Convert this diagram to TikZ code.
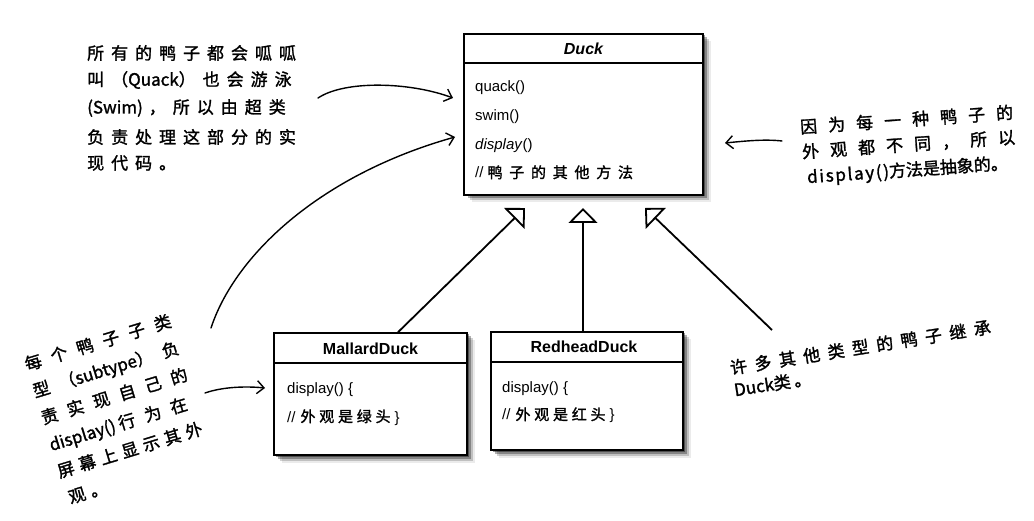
\documentclass[tikz,border=0pt]{standalone}
\usepackage{fontspec}
\setmainfont{Liberation Sans}
\newfontfamily\cjk[FakeBold=1.5]{Noto Sans CJK SC}
\newfontfamily\hand[FakeBold=1.5]{Noto Sans CJK SC}
\usetikzlibrary{arrows.meta,shadows}
\newcommand\lsp[1]{\addfontfeatures{LetterSpace=#1}}
\tikzset{
  shade3/.style={
    drop shadow={shadow xshift=1.5pt,shadow yshift=-1.5pt,fill=black,opacity=.4},
    drop shadow={shadow xshift=3.5pt,shadow yshift=-3.5pt,fill=black,opacity=.3},
    drop shadow={shadow xshift=5.5pt,shadow yshift=-5.5pt,fill=black,opacity=.18},
    drop shadow={shadow xshift=7.5pt,shadow yshift=-7.5pt,fill=black,opacity=.08}},
  umlbox/.style={draw,line width=1.6pt,fill=white,inner sep=0pt,shade3},
  sepline/.style={line width=1.2pt},
  title/.style={anchor=base,inner sep=0pt,font=\fontsize{16}{19}\selectfont\bfseries},
  member/.style={anchor=base west,inner sep=0pt,font=\fontsize{15}{18}\selectfont},
  gen/.style={line width=1.8pt,-{Triangle[open,length=15pt,width=29pt,line width=1.8pt]}},
  handtxt/.style={anchor=west,inner sep=0pt,font=\hand\fontsize{17}{20}\selectfont},
  handblock/.style={anchor=north west,inner sep=0pt,align=left,font=\hand\fontsize{17}{28}\selectfont},
  handarrow/.style={line width=1.4pt,line cap=round,-{Straight Barb[length=7pt,width=13pt,line width=1.4pt]}},
}
\begin{document}
\begin{tikzpicture}[x=1pt,y=-1pt]
\useasboundingbox[fill=white] (0,0) rectangle (1034,521);

% ---------- Duck ----------
\node[umlbox,minimum width=239pt,minimum height=161pt] (duck) at (583.5,114.5) {};
\draw[sepline] (duck.west |- 0,63) -- (duck.east |- 0,63);
\node[title] (duckT) at (583.5,55) {\itshape Duck};
\node[member] (m1) at (475,92) {quack()};
\node[member] (m2) at (475,121) {swim()};
\node[member] (m3) at (475,150) {\textit{display}()};
\node[member] (m4) at (475,178) {//\hspace{4pt}{\cjk\lsp{45}鸭子的其他方法}};

% ---------- MallardDuck ----------
\node[umlbox,minimum width=193pt,minimum height=122pt] (mallard) at (370.5,394) {};
\draw[sepline] (mallard.west |- 0,363) -- (mallard.east |- 0,363);
\node[title] (malT) at (370.5,355) {MallardDuck};
\node[member] (mal1) at (287,393) {display() \{};
\node[member] (mal2) at (287,422) {//\hspace{5pt}{\cjk\lsp{25}外观是绿头} \}};

% ---------- RedheadDuck ----------
\node[umlbox,minimum width=192pt,minimum height=118pt] (redhead) at (587,391) {};
\draw[sepline] (redhead.west |- 0,362) -- (redhead.east |- 0,362);
\node[title] (redT) at (584,353) {RedheadDuck};
\node[member] (red1) at (502,392) {display() \{};
\node[member] (red2) at (502,420) {//\hspace{5pt}{\cjk\lsp{25}外观是红头} \}};

% ---------- generalisation arrows ----------
\coordinate (t1) at (525,208);
\coordinate (t2) at (583,208);
\coordinate (t3) at (645,208);
\coordinate (c4) at (772,330);
\draw[gen] ([xshift=27.5pt]mallard.north) -- (t1);
\draw[gen] (t2 |- redhead.north) -- (t2);
\draw[gen] (c4) -- (t3);

% ---------- annotation 1 ----------
\node[handtxt] (a1l1) at (87,53) {\lsp{41}所有的鸭子都会呱呱};
\node[handtxt] (a1l2) at (87,80) {{\lsp{41}叫（}Quack{\lsp{41}）也会游泳}};
\node[handtxt] (a1l3) at (87,108) {(Swim)\hspace{6pt}{\lsp{41}，所以由超类}};
\node[handtxt] (a1l4) at (87,137) {\lsp{41}负责处理这部分的实};
\node[handtxt] (a1l5) at (87,163) {\lsp{41}现代码。};

% ---------- annotation 2 ----------
\node[handtxt,rotate=4] (a2l1) at (800,127) {\lsp{65}因为每一种鸭子的};
\node[handtxt,rotate=4] (a2l2) at (802,152) {\lsp{65}外观都不同，所以};
\node[handtxt,rotate=4] (a2l3) at (807,178) {{\lsp{10}display()}方法是抽象的。};

% ---------- annotation 3 ----------
\node[handblock,rotate=17] (a3) at (22.5,357) {%
  {\lsp{59}每个鸭子子类}\\
  {\lsp{59}型（}subtype{\lsp{59}）负}\\
  {\lsp{59}责实现自己的}\\
  display() {\lsp{59}行为在}\\
  {\lsp{31}屏幕上显示其外}\\
  \hspace{3pt}{\lsp{31}观。}};

% ---------- annotation 4 ----------
\node[handtxt,rotate=9] (a4l1) at (730,368) {\lsp{45}许多其他类型的鸭子继承};
\node[handtxt,rotate=9] (a4l2) at (734,390) {Duck{\lsp{20}类。}};

% ---------- hand-drawn arrows ----------
\coordinate (h1s) at (318,98);
\coordinate (h1e) at (453,98);
\coordinate (h2s) at (211,328);
\coordinate (h2e) at (455,137);
\coordinate (h3s) at (782,141);
\coordinate (h3e) at (725,143);
\coordinate (h4s) at (205,393);
\coordinate (h4e) at (265,388);
\draw[handarrow] (h1s) .. controls (345,80) and (410,82) .. (h1e);
\draw[handarrow] (h2s) .. controls (235,255) and (320,175) .. (h2e);
\draw[handarrow] (h3s) .. controls (765,139) and (745,141) .. (h3e);
\draw[handarrow] (h4s) .. controls (222,387) and (245,386) .. (h4e);
\end{tikzpicture}
\end{document}
